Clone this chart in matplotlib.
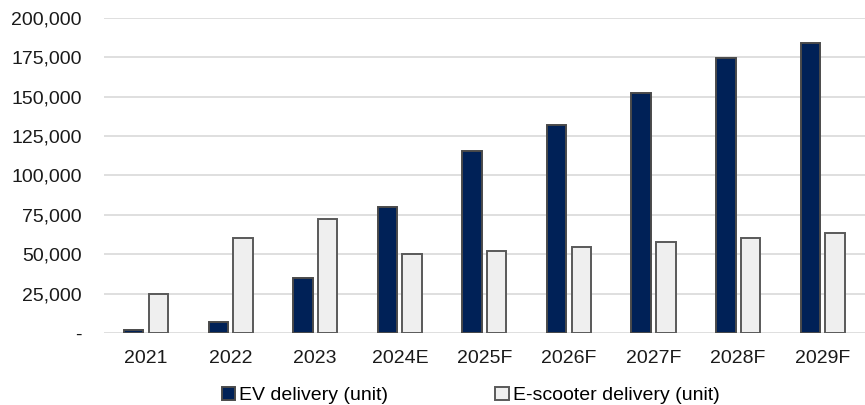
import matplotlib.pyplot as plt
import numpy as np
from matplotlib.ticker import FuncFormatter

years = ["2021", "2022", "2023", "2024E", "2025F", "2026F", "2027F", "2028F", "2029F"]
ev_delivery = [1800, 7000, 35000, 80000, 115500, 132000, 152000, 174800, 184000]
scooter_delivery = [25000, 60000, 72000, 50000, 52000, 54600, 57800, 60500, 63700]

plt.rcParams['font.family'] = ['Liberation Sans', 'DejaVu Sans']

fig = plt.figure(figsize=(8.65, 4.05), dpi=100)
ax = fig.add_axes([0.12, 0.178, 0.88, 0.778])

x = np.arange(len(years))
w = 0.23
off = 0.146
ax.bar(x - off, ev_delivery, w, color="#002157", edgecolor="#4a4a4a", linewidth=1.4,
       label="EV delivery (unit)", zorder=3)
ax.bar(x + off, scooter_delivery, w, color="#efefef", edgecolor="#595959", linewidth=1.4,
       label="E-scooter delivery (unit)", zorder=3)

ax.set_xlim(-0.5, len(years) - 0.5)
ax.set_ylim(0, 200000)
ax.set_yticks(np.arange(0, 200001, 25000))
ax.yaxis.set_major_formatter(FuncFormatter(lambda v, p: "-" if v == 0 else f"{int(v):,}"))
ax.set_xticks(x)
ax.set_xticklabels(years)
ax.tick_params(axis="both", length=0, labelsize=14, colors="#1a1a1a")
ax.tick_params(axis="x", pad=12)
ax.tick_params(axis="y", pad=16)
ax.grid(axis="y", color="#d9d9d9", linewidth=1.2, zorder=0)
for s in ax.spines.values():
    s.set_visible(False)

ax.legend(loc="upper center", bbox_to_anchor=(0.482, -0.115), ncol=2, frameon=False,
          fontsize=14, handlelength=0.7, handleheight=0.7, handletextpad=0.2,
          columnspacing=5.5)

fig.savefig("out.png", dpi=100)
